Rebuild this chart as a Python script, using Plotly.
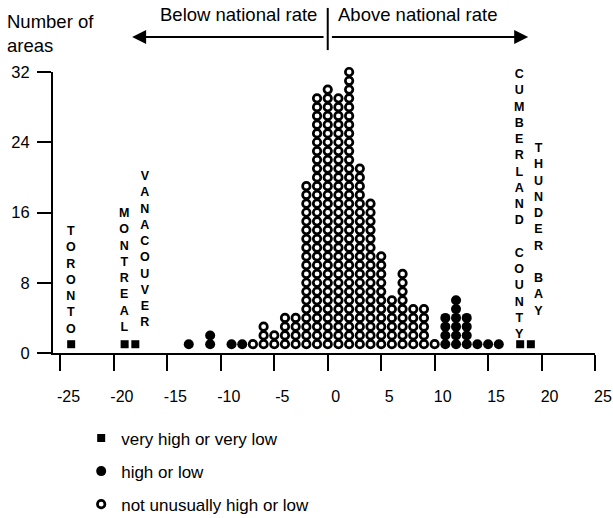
import plotly.graph_objects as go

# ---------------- data ----------------
area_names = ["TORONTO", "MONTREAL", "VANACOUVER", "CUMBERLAND COUNTY", "THUNDER BAY"]
area_rates = [-24, -19, -18, 18, 19]

high_low_x = [-13, -11, -9, -8, 11, 12, 13, 14, 15, 16]
high_low_n = [1, 2, 1, 1, 4, 6, 4, 1, 1, 1]

normal_x = [-7, -6, -5, -4, -3, -2, -1, 0, 1, 2, 3, 4, 5, 6, 7, 8, 9, 10]
normal_n = [1, 3, 2, 4, 4, 19, 29, 30, 29, 32, 21, 17, 11, 6, 9, 5, 5, 1]

x_ticks = [-25, -20, -15, -10, -5, 0, 5, 10, 15, 20, 25]
y_ticks = [0, 8, 16, 24, 32]

legend_names = ["very high or very low", "high or low", "not unusually high or low"]
# -----------------------------------------------------------------


def stack(xs, ns):
    px, py = [], []
    for x, n in zip(xs, ns):
        for k in range(1, n + 1):
            px.append(x)
            py.append(k)
    return px, py


FONT = "Liberation Sans, Arial, sans-serif"

sq_x, sq_y = stack(area_rates, [1] * len(area_rates))
hl_x, hl_y = stack(high_low_x, high_low_n)
nm_x, nm_y = stack(normal_x, normal_n)

fig = go.Figure()
fig.add_trace(go.Scatter(
    x=sq_x, y=sq_y, mode="markers", name=legend_names[0], legendgroup="a",
    marker=dict(symbol="square", size=8, color="black", line=dict(width=0)),
    cliponaxis=False))
fig.add_trace(go.Scatter(
    x=hl_x, y=hl_y, mode="markers", name=legend_names[1], legendgroup="b",
    marker=dict(symbol="circle", size=10, color="black", line=dict(width=0)),
    cliponaxis=False))
fig.add_trace(go.Scatter(
    x=nm_x, y=nm_y, mode="markers", name=legend_names[2], legendgroup="c",
    marker=dict(symbol="circle", size=7.5, color="white",
                line=dict(width=2.7, color="black")),
    cliponaxis=False))

# vertical place-name labels
label_shift = {
    "TORONTO": (0, 6),
    "MONTREAL": (-1, 8),
    "VANACOUVER": (10, 13),
    "CUMBERLAND COUNTY": (-1, 1),
    "THUNDER BAY": (8, 24),
}
for name, rate in zip(area_names, area_rates):
    xs, ys = label_shift[name]
    fig.add_annotation(
        x=rate, y=1, xref="x", yref="y", xanchor="center", yanchor="bottom",
        text="<br>".join(list(name)), showarrow=False, align="center",
        xshift=xs, yshift=ys,
        font=dict(family=FONT, size=12.5, color="black", weight="bold"))

# header: arrows + divider + texts
fig.add_shape(type="line", xref="x", yref="paper", x0=0, x1=0,
              y0=1.078, y1=1.228, line=dict(color="black", width=2))
fig.add_annotation(x=-18.3, y=1.1246, xref="x", yref="paper", ax=-0.25, ay=0,
                   axref="x", ayref="pixel", showarrow=True, arrowhead=2,
                   arrowsize=1.4, arrowwidth=2, arrowcolor="black", text="")
fig.add_annotation(x=18.75, y=1.1246, xref="x", yref="paper", ax=0.25, ay=0,
                   axref="x", ayref="pixel", showarrow=True, arrowhead=2,
                   arrowsize=1.4, arrowwidth=2, arrowcolor="black", text="")
fig.add_annotation(x=-0.8, y=1.203, xref="x", yref="paper", xanchor="right",
                   yanchor="middle", showarrow=False, text="Below national rate",
                   font=dict(family=FONT, size=18.5, color="black"))
fig.add_annotation(x=0.8, y=1.203, xref="x", yref="paper", xanchor="left",
                   yanchor="middle", showarrow=False, text="Above national rate",
                   font=dict(family=FONT, size=18.5, color="black"))
fig.add_annotation(x=-0.0886, y=1.137, xref="paper", yref="paper", xanchor="left",
                   yanchor="middle", align="left", showarrow=False,
                   text="Number of<br>areas",
                   font=dict(family=FONT, size=18.5, color="black"))

fig.update_layout(
    width=613, height=518,
    margin=dict(l=53, r=18, t=72, b=165, autoexpand=False),
    paper_bgcolor="white", plot_bgcolor="white",
    font=dict(family=FONT, size=16, color="black"),
    showlegend=True,
    legend=dict(x=0.052, y=-0.24, xanchor="left", yanchor="top",
                orientation="v", tracegroupgap=8, itemsizing="trace",
                font=dict(family=FONT, size=17, color="black"),
                bgcolor="rgba(0,0,0,0)"),
)
fig.update_xaxes(
    range=[-25.7, 25], tickvals=x_ticks, ticktext=[str(v) for v in x_ticks],
    showline=True, linecolor="black", linewidth=2, mirror=False,
    ticks="outside", ticklen=16, tickwidth=2, tickcolor="black",
    ticklabelshift=8, ticklabelstandoff=12,
    showgrid=False, zeroline=False, tickfont=dict(family=FONT, size=16))
fig.update_yaxes(
    range=[0, 32], tickvals=y_ticks, ticktext=[str(v) for v in y_ticks],
    showline=True, linecolor="black", linewidth=2,
    ticks="outside", ticklen=14, tickwidth=2, tickcolor="black",
    ticklabelstandoff=4,
    showgrid=False, zeroline=False, tickfont=dict(family=FONT, size=16.5))

fig.write_html("out.html",
               config={"displayModeBar": False},
               post_script="document.body.style.margin='0px';"
                           "document.body.style.overflow='hidden';")
